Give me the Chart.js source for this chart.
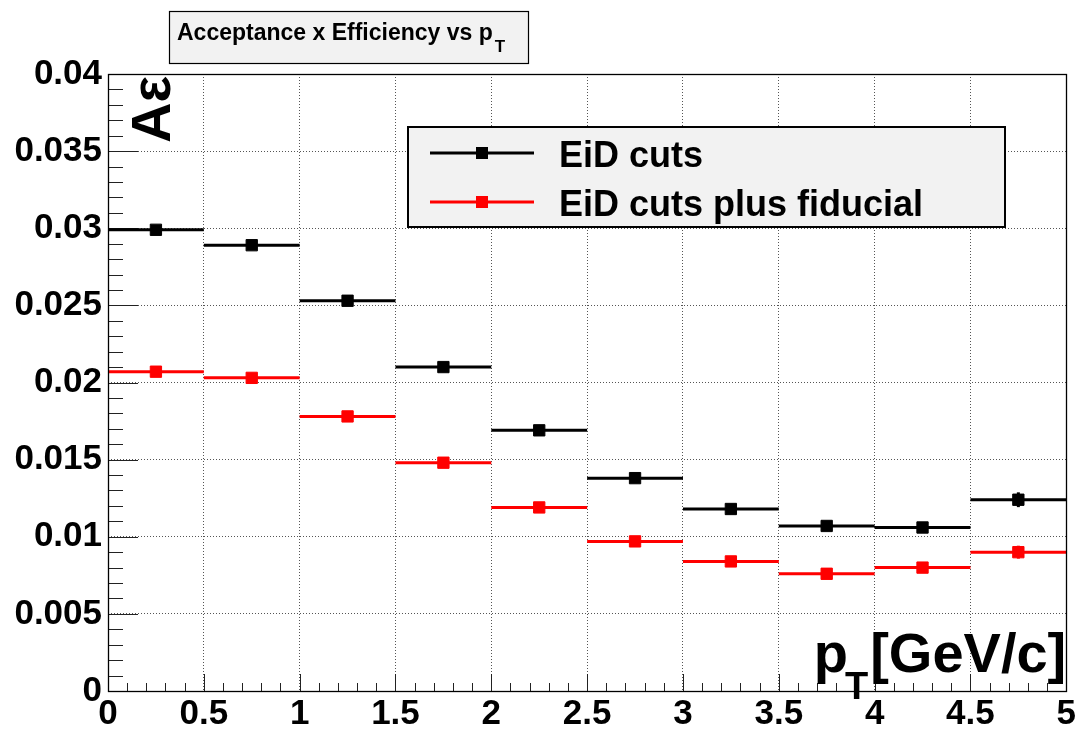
<!DOCTYPE html>
<html>
<head>
<meta charset="utf-8">
<script src="https://cdn.jsdelivr.net/npm/chart.js@4.4.1/dist/chart.umd.min.js"></script>
<style>
  html, body { margin: 0; padding: 0; background: #ffffff; }
  canvas { display: block; }
</style>
</head>
<body>
<canvas id="chart" width="1078" height="730"></canvas>
<script>
// pT bins (GeV/c): centres and half width
const binCenters = [0.25, 0.75, 1.25, 1.75, 2.25, 2.75, 3.25, 3.75, 4.25, 4.75];
const binHalfWidth = 0.25;

// Acceptance x efficiency per bin
const eidCuts        = [0.0299, 0.0289, 0.0253, 0.0210, 0.0169, 0.0138, 0.0118, 0.0107, 0.0106, 0.0124];
const eidCutsErr     = [0.0003, 0.0003, 0.0003, 0.0003, 0.0003, 0.0003, 0.0003, 0.0003, 0.0003, 0.00048];
const eidFiducial    = [0.0207, 0.0203, 0.0178, 0.0148, 0.0119, 0.0097, 0.0084, 0.0076, 0.0080, 0.0090];
const eidFiducialErr = [0.0003, 0.0003, 0.0003, 0.0003, 0.0003, 0.0003, 0.0003, 0.0003, 0.0003, 0.00042];

const seriesNames  = ['EiD cuts', 'EiD cuts plus fiducial'];
const seriesColors = ['#000000', '#ff0000'];

// Axis ticks
const xTickValues = [0, 0.5, 1, 1.5, 2, 2.5, 3, 3.5, 4, 4.5, 5];
const xTickLabels = ['0', '0.5', '1', '1.5', '2', '2.5', '3', '3.5', '4', '4.5', '5'];
const yTickValues = [0, 0.005, 0.01, 0.015, 0.02, 0.025, 0.03, 0.035, 0.04];
const yTickLabels = ['0', '0.005', '0.01', '0.015', '0.02', '0.025', '0.03', '0.035', '0.04'];

const FONT = '"Liberation Sans", Arial, Helvetica, sans-serif';

// Each bin becomes a horizontal segment with its marker at the bin centre.
function binPoints(values) {
  const pts = [];
  values.forEach((v, i) => {
    const c = binCenters[i];
    pts.push({ x: c - binHalfWidth, y: v });
    pts.push({ x: c, y: v, marker: true });
    pts.push({ x: c + binHalfWidth, y: v });
    pts.push({ x: c + binHalfWidth, y: null });
  });
  return pts;
}

function histDataset(label, values, errors, color) {
  return {
    label: label,
    data: binPoints(values),
    errors: errors,
    values: values,
    borderColor: color,
    backgroundColor: color,
    borderWidth: 3,
    borderCapStyle: 'butt',
    spanGaps: false,
    tension: 0,
    pointStyle: 'rect',
    pointBackgroundColor: color,
    pointBorderColor: color,
    pointBorderWidth: 1,
    pointRadius: ctx => (ctx.raw && ctx.raw.marker ? 8 : 0),
    pointHoverRadius: ctx => (ctx.raw && ctx.raw.marker ? 8 : 0)
  };
}

// Vertical error bars, drawn under the markers
const errorBars = {
  id: 'errorBars',
  beforeDatasetsDraw(chart) {
    const { ctx, scales: { x, y } } = chart;
    ctx.save();
    chart.data.datasets.forEach(ds => {
      ctx.strokeStyle = ds.borderColor;
      ctx.lineWidth = 3;
      ds.values.forEach((v, i) => {
        const px = x.getPixelForValue(binCenters[i]);
        ctx.beginPath();
        ctx.moveTo(px, y.getPixelForValue(v - ds.errors[i]));
        ctx.lineTo(px, y.getPixelForValue(v + ds.errors[i]));
        ctx.stroke();
      });
    });
    ctx.restore();
  }
};

// Frame with inward major/minor ticks
const frameTicks = {
  id: 'frameTicks',
  beforeDatasetsDraw(chart) {
    const { ctx, chartArea: a, scales: { x, y } } = chart;
    ctx.save();
    ctx.strokeStyle = '#222';
    ctx.lineWidth = 1;
    ctx.beginPath();
    for (let k = 0; k <= 40; k++) {
      const py = Math.round(y.getPixelForValue(k * 0.001)) + 0.5;
      const len = (k % 5 === 0) ? 30 : 15;
      ctx.moveTo(a.left, py);
      ctx.lineTo(a.left + len, py);
    }
    for (let k = 0; k <= 50; k++) {
      const px = Math.round(x.getPixelForValue(k * 0.1)) + 0.5;
      const len = (k % 5 === 0) ? 17 : 8;
      ctx.moveTo(px, a.bottom);
      ctx.lineTo(px, a.bottom - len);
    }
    ctx.stroke();
    ctx.restore();
  },
  afterDraw(chart) {
    const { ctx, chartArea: a } = chart;
    ctx.save();
    ctx.strokeStyle = '#000';
    ctx.lineWidth = 1.3;
    ctx.strokeRect(Math.round(a.left) + 0.5, Math.round(a.top) + 0.5,
                   Math.round(a.right - a.left), Math.round(a.bottom - a.top));
    ctx.restore();
  }
};

// Title box, legend box and axis titles
const annotations = {
  id: 'annotations',
  afterDraw(chart) {
    const { ctx, chartArea: a } = chart;
    ctx.save();

    // title box
    ctx.fillStyle = '#f2f2f2';
    ctx.fillRect(169, 11, 359, 52);
    ctx.strokeStyle = '#000';
    ctx.lineWidth = 1.2;
    ctx.strokeRect(169.5, 11.5, 359, 52);
    ctx.fillStyle = '#000';
    ctx.textBaseline = 'alphabetic';
    ctx.textAlign = 'left';
    ctx.font = 'bold 23px ' + FONT;
    const titleMain = 'Acceptance x Efficiency vs p';
    ctx.fillText(titleMain, 177, 40);
    const tw = ctx.measureText(titleMain).width;
    ctx.font = 'bold 17px ' + FONT;
    ctx.fillText('T', 177 + tw + 2, 52);

    // legend box
    ctx.fillStyle = '#f2f2f2';
    ctx.fillRect(408, 127, 597, 100);
    ctx.strokeStyle = '#000';
    ctx.lineWidth = 2;
    ctx.strokeRect(408, 127, 597, 100);
    const rows = [153, 202];
    chart.data.datasets.forEach((ds, i) => {
      const ly = rows[i];
      ctx.strokeStyle = ds.borderColor;
      ctx.lineWidth = 3;
      ctx.beginPath();
      ctx.moveTo(430, ly);
      ctx.lineTo(534, ly);
      ctx.stroke();
      ctx.fillStyle = ds.borderColor;
      ctx.fillRect(476, ly - 6, 12, 12);
      ctx.fillStyle = '#000';
      ctx.font = 'bold 36px ' + FONT;
      ctx.textAlign = 'left';
      ctx.fillText(ds.label, 559, ly + 14);
    });

    // y-axis title (rotated)
    ctx.fillStyle = '#000';
    ctx.save();
    ctx.translate(170, a.top + 2);
    ctx.rotate(-Math.PI / 2);
    ctx.font = 'bold 56px ' + FONT;
    ctx.textAlign = 'right';
    ctx.textBaseline = 'alphabetic';
    ctx.fillText('A\u03b5', 0, 0);
    ctx.restore();

    // x-axis title: p_T[GeV/c], right-aligned to the axis end
    ctx.textAlign = 'left';
    ctx.textBaseline = 'alphabetic';
    ctx.font = 'bold 56px ' + FONT;
    const rest = '[GeV/c]';
    const restW = ctx.measureText(rest).width;
    const restX = a.right - restW;
    ctx.fillText(rest, restX, 672);
    ctx.font = 'bold 38px ' + FONT;
    const tW = ctx.measureText('T').width;
    const tX = restX - tW - 2;
    ctx.fillText('T', tX, 699);
    ctx.font = 'bold 56px ' + FONT;
    const pW = ctx.measureText('p').width;
    ctx.fillText('p', tX - pW + 3, 672);

    ctx.restore();
  }
};

new Chart(document.getElementById('chart'), {
  type: 'line',
  data: {
    datasets: [
      histDataset(seriesNames[0], eidCuts, eidCutsErr, seriesColors[0]),
      histDataset(seriesNames[1], eidFiducial, eidFiducialErr, seriesColors[1])
    ]
  },
  options: {
    responsive: false,
    devicePixelRatio: 1,
    animation: false,
    events: [],
    layout: { padding: { top: 74, right: 11, left: 0, bottom: 0 } },
    plugins: {
      legend: { display: false },
      title: { display: false },
      tooltip: { enabled: false }
    },
    scales: {
      x: {
        type: 'linear',
        min: 0,
        max: 5,
        afterBuildTicks: s => { s.ticks = xTickValues.map(v => ({ value: v })); },
        afterFit: s => { s.height = 39; },
        grid: { color: '#555', lineWidth: 1, drawTicks: false },
        border: { display: false, dash: [1, 2] },
        ticks: {
          autoSkip: false,
          maxRotation: 0,
          padding: 2,
          color: '#000',
          font: { family: FONT, size: 35, weight: 'bold' },
          callback: (v, i) => xTickLabels[i]
        }
      },
      y: {
        type: 'linear',
        min: 0,
        max: 0.04,
        afterBuildTicks: s => { s.ticks = yTickValues.map(v => ({ value: v })); },
        afterFit: s => { s.width = 108; },
        grid: { color: '#555', lineWidth: 1, drawTicks: false },
        border: { display: false, dash: [1, 2] },
        ticks: {
          autoSkip: false,
          padding: 6,
          color: '#000',
          font: { family: FONT, size: 35, weight: 'bold' },
          callback: (v, i) => yTickLabels[i]
        }
      }
    }
  },
  plugins: [errorBars, frameTicks, annotations]
});
</script>
</body>
</html>
